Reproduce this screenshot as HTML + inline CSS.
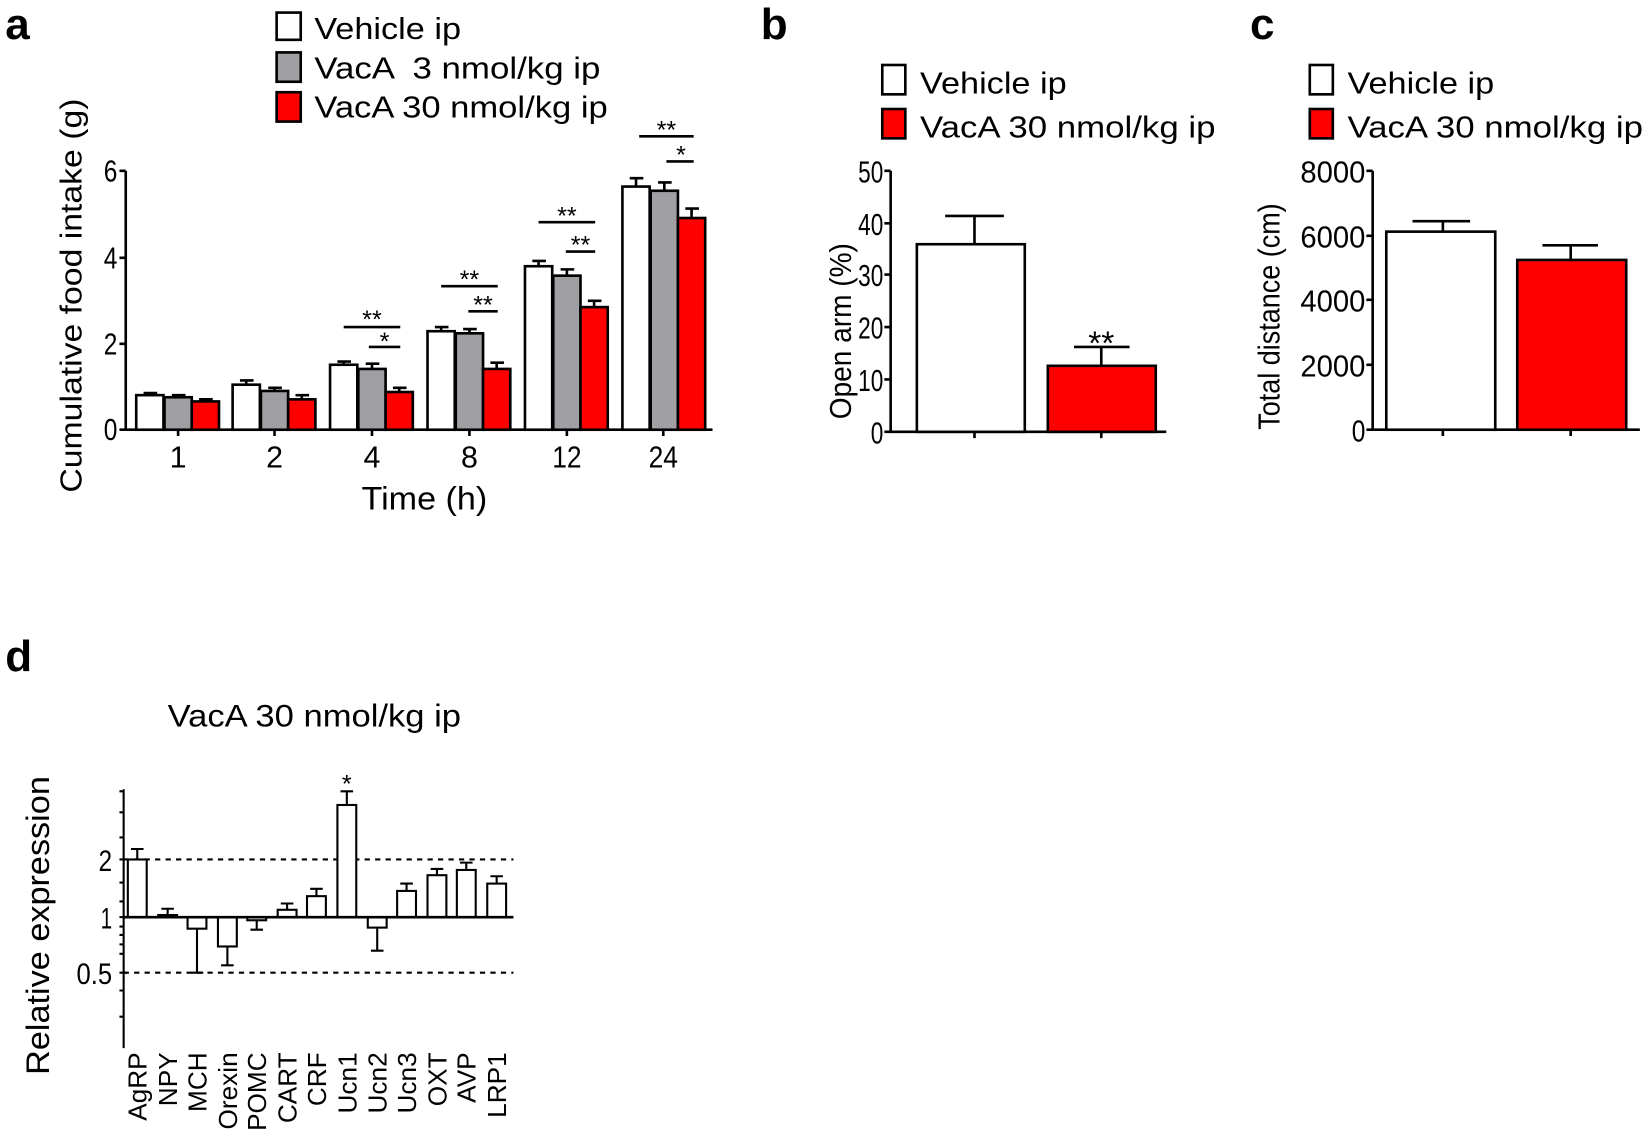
<!DOCTYPE html>
<html><head><meta charset="utf-8"><style>
html,body{margin:0;padding:0;background:#fff;}
svg{display:block;}
text{font-family:"Liberation Sans",sans-serif;fill:#000;}
</style></head><body>
<svg width="1643" height="1132" viewBox="0 0 1568 1080" preserveAspectRatio="none" xmlns="http://www.w3.org/2000/svg">
<g stroke="#000" stroke-width="2.5" fill="none">
<path d="M120 163 V410 H680"/>
<path d="M114 163 H120 M114 246 H120 M114 328 H120 M114 410 H120"/>
<path d="M170 410 V416 M262 410 V416 M355 410 V416 M448 410 V416 M541 410 V416 M633 410 V416"/>
</g>
<g stroke="#000" stroke-width="2.5">
<rect x="130" y="377" width="26" height="33" fill="#fff"/><rect x="157" y="379" width="26" height="31" fill="#a0a0a4"/><rect x="183" y="383" width="26" height="27" fill="#f00"/>
<path d="M143 377V375M137 375H150M170 379V377M164 377H177M196 383V381M190 381H203" fill="none"/>
<rect x="222" y="367" width="26" height="43" fill="#fff"/><rect x="249" y="373" width="26" height="37" fill="#a0a0a4"/><rect x="275" y="381" width="26" height="29" fill="#f00"/>
<path d="M235 367V363M229 363H242M262 373V370M256 370H269M288 381V377M282 377H295" fill="none"/>
<rect x="315" y="348" width="26" height="62" fill="#fff"/><rect x="342" y="352" width="26" height="58" fill="#a0a0a4"/><rect x="368" y="374" width="26" height="36" fill="#f00"/>
<path d="M328 348V345M322 345H335M355 352V347M349 347H362M381 374V370M375 370H388" fill="none"/>
<rect x="408" y="316" width="26" height="94" fill="#fff"/><rect x="435" y="318" width="26" height="92" fill="#a0a0a4"/><rect x="461" y="352" width="26" height="58" fill="#f00"/>
<path d="M421 316V312M415 312H428M448 318V314M442 314H455M474 352V346M468 346H481" fill="none"/>
<rect x="501" y="254" width="26" height="156" fill="#fff"/><rect x="528" y="263" width="26" height="147" fill="#a0a0a4"/><rect x="554" y="293" width="26" height="117" fill="#f00"/>
<path d="M514 254V249M508 249H521M541 263V257M535 257H548M567 293V287M561 287H574" fill="none"/>
<rect x="594" y="178" width="26" height="232" fill="#fff"/><rect x="621" y="182" width="26" height="228" fill="#a0a0a4"/><rect x="647" y="208" width="26" height="202" fill="#f00"/>
<path d="M607 178V170M601 170H614M634 182V174M628 174H641M660 208V199M654 199H667" fill="none"/>
<path d="M328 312H382M352 331H382M421 273H475M447 297H475M514 212H568M540 240H568M610 130H662M636 154H662" fill="none"/>
<rect x="264" y="12" width="23" height="26" fill="#fff"/><rect x="264" y="50" width="23" height="28" fill="#a0a0a4"/><rect x="264" y="88" width="23" height="28" fill="#f00"/>
</g>
<g font-size="24" text-anchor="middle">
<text x="355" y="313">**</text><text x="367" y="334">*</text>
<text x="448" y="275">**</text><text x="461" y="299">**</text>
<text x="541" y="214">**</text><text x="554" y="242">**</text>
<text x="636" y="132">**</text><text x="650" y="156">*</text>
</g>
<text x="5" y="37" font-size="42" font-weight="bold">a</text>
<g font-size="29"><text x="300" y="37" textLength="140" lengthAdjust="spacingAndGlyphs">Vehicle ip</text><text x="300" y="75" textLength="273" lengthAdjust="spacingAndGlyphs">VacA &#160;3 nmol/kg ip</text><text x="300" y="112" textLength="280" lengthAdjust="spacingAndGlyphs">VacA 30 nmol/kg ip</text></g>
<g font-size="29" text-anchor="end"><text x="112" y="173" textLength="13" lengthAdjust="spacingAndGlyphs">6</text><text x="112" y="256" textLength="13" lengthAdjust="spacingAndGlyphs">4</text><text x="112" y="338" textLength="13" lengthAdjust="spacingAndGlyphs">2</text><text x="112" y="420" textLength="13" lengthAdjust="spacingAndGlyphs">0</text></g>
<g font-size="29" text-anchor="middle"><text x="170" y="446">1</text><text x="262" y="446">2</text><text x="355" y="446">4</text><text x="448" y="446">8</text><text x="541" y="446" textLength="28" lengthAdjust="spacingAndGlyphs">12</text><text x="633" y="446" textLength="28" lengthAdjust="spacingAndGlyphs">24</text>
<text x="405" y="486" font-size="31" textLength="120" lengthAdjust="spacingAndGlyphs">Time (h)</text></g>
<text transform="translate(78,282) rotate(-90)" font-size="29" text-anchor="middle" textLength="376" lengthAdjust="spacingAndGlyphs">Cumulative food intake (g)</text>

<text x="726" y="37" font-size="42" font-weight="bold">b</text>
<g stroke="#000" stroke-width="2.5">
<rect x="842" y="62" width="22" height="28" fill="#fff"/><rect x="842" y="104" width="22" height="28" fill="#f00"/>
<path d="M850 163V412H1113M844 163H850M844 213H850M844 262H850M844 312H850M844 362H850M844 412H850M930 412V418M1051 412V418" fill="none"/>
<rect x="875" y="233" width="103" height="179" fill="#fff"/>
<rect x="1000" y="349" width="103" height="63" fill="#f00"/>
<path d="M930 233V206M902 206H958M1051 349V331M1025 331H1078" fill="none"/>
</g>
<text x="1051" y="338" font-size="32" text-anchor="middle">**</text>
<g font-size="29"><text x="878" y="89" textLength="140" lengthAdjust="spacingAndGlyphs">Vehicle ip</text><text x="878" y="131" textLength="282" lengthAdjust="spacingAndGlyphs">VacA 30 nmol/kg ip</text></g>
<g font-size="29" text-anchor="end"><text x="843" y="174" textLength="24" lengthAdjust="spacingAndGlyphs">50</text><text x="843" y="224" textLength="24" lengthAdjust="spacingAndGlyphs">40</text><text x="843" y="273" textLength="24" lengthAdjust="spacingAndGlyphs">30</text><text x="843" y="323" textLength="24" lengthAdjust="spacingAndGlyphs">20</text><text x="843" y="373" textLength="24" lengthAdjust="spacingAndGlyphs">10</text><text x="843" y="423" textLength="12" lengthAdjust="spacingAndGlyphs">0</text></g>
<text transform="translate(812,316) rotate(-90)" font-size="29" text-anchor="middle" textLength="168" lengthAdjust="spacingAndGlyphs">Open arm (%)</text>

<text x="1193" y="37" font-size="42" font-weight="bold">c</text>
<g stroke="#000" stroke-width="2.5">
<rect x="1250" y="62" width="22" height="28" fill="#fff"/><rect x="1250" y="104" width="22" height="28" fill="#f00"/>
<path d="M1310 163V410H1565M1304 163H1310M1304 225H1310M1304 286H1310M1304 348H1310M1304 410H1310M1377 410V416M1499 410V416" fill="none"/>
<rect x="1323" y="221" width="104" height="189" fill="#fff"/>
<rect x="1448" y="248" width="104" height="162" fill="#f00"/>
<path d="M1377 221V211M1348 211H1403M1499 248V234M1472 234H1525" fill="none"/>
</g>
<g font-size="29"><text x="1286" y="89" textLength="140" lengthAdjust="spacingAndGlyphs">Vehicle ip</text><text x="1286" y="131" textLength="282" lengthAdjust="spacingAndGlyphs">VacA 30 nmol/kg ip</text></g>
<g font-size="29" text-anchor="end"><text x="1303" y="174" textLength="62" lengthAdjust="spacingAndGlyphs">8000</text><text x="1303" y="236" textLength="62" lengthAdjust="spacingAndGlyphs">6000</text><text x="1303" y="297" textLength="62" lengthAdjust="spacingAndGlyphs">4000</text><text x="1303" y="359" textLength="62" lengthAdjust="spacingAndGlyphs">2000</text><text x="1303" y="421" textLength="13" lengthAdjust="spacingAndGlyphs">0</text></g>
<text transform="translate(1221,302) rotate(-90)" font-size="29" text-anchor="middle" textLength="216" lengthAdjust="spacingAndGlyphs">Total distance (cm)</text>

<text x="5" y="640" font-size="42" font-weight="bold">d</text>
<text x="300" y="693" font-size="30" text-anchor="middle" textLength="280" lengthAdjust="spacingAndGlyphs">VacA 30 nmol/kg ip</text>
<g stroke="#000" stroke-width="2">
<path d="M118 753V1000" fill="none"/>
<path d="M114 755H118M114 775H118M114 799H118M114 820H121M114 842H118M114 860H118M114 875H121M114 884H118M114 892H118M114 901H118M114 910H118M114 928H121M114 945H118M114 970H118" fill="none"/>
<path d="M118 820H490M118 928H490" stroke-dasharray="5,5" fill="none"/>
<g fill="#fff">
<rect x="122" y="820" width="18" height="55"/>
<rect x="151" y="873" width="18" height="2"/>
<rect x="179" y="875" width="18" height="11"/>
<rect x="208" y="875" width="18" height="28"/>
<rect x="236" y="875" width="18" height="3"/>
<rect x="265" y="868" width="18" height="7"/>
<rect x="293" y="855" width="18" height="20"/>
<rect x="322" y="768" width="18" height="107"/>
<rect x="351" y="875" width="18" height="10"/>
<rect x="379" y="850" width="18" height="25"/>
<rect x="408" y="835" width="18" height="40"/>
<rect x="436" y="830" width="18" height="45"/>
<rect x="465" y="843" width="18" height="32"/>
</g>
<path d="M131 820V810M125 810H137M160 873V867M154 867H166M188 886V928M182 928H194M217 903V921M211 921H223M245 878V887M239 887H251M274 868V862M268 862H280M302 855V848M296 848H308M331 768V755M325 755H337M360 885V907M354 907H366M388 850V843M382 843H394M417 835V829M411 829H423M445 830V823M439 823H451M474 843V836M468 836H480" fill="none"/>
<path d="M118 875H490" stroke-width="2.5" fill="none"/>
</g>
<text x="331" y="756" font-size="24" text-anchor="middle">*</text>
<g font-size="28" text-anchor="end"><text x="107" y="831" textLength="13" lengthAdjust="spacingAndGlyphs">2</text><text x="107" y="886" textLength="11" lengthAdjust="spacingAndGlyphs">1</text><text x="107" y="939" textLength="34" lengthAdjust="spacingAndGlyphs">0.5</text></g>
<text transform="translate(47,883) rotate(-90)" font-size="31" text-anchor="middle" textLength="285" lengthAdjust="spacingAndGlyphs">Relative expression</text>
<g font-size="25" text-anchor="end">
<text transform="translate(140,1004) rotate(-90)">AgRP</text>
<text transform="translate(169,1004) rotate(-90)">NPY</text>
<text transform="translate(197,1004) rotate(-90)">MCH</text>
<text transform="translate(226,1004) rotate(-90)">Orexin</text>
<text transform="translate(254,1004) rotate(-90)">POMC</text>
<text transform="translate(283,1004) rotate(-90)">CART</text>
<text transform="translate(311,1004) rotate(-90)">CRF</text>
<text transform="translate(340,1004) rotate(-90)">Ucn1</text>
<text transform="translate(369,1004) rotate(-90)">Ucn2</text>
<text transform="translate(397,1004) rotate(-90)">Ucn3</text>
<text transform="translate(426,1004) rotate(-90)">OXT</text>
<text transform="translate(454,1004) rotate(-90)">AVP</text>
<text transform="translate(483,1004) rotate(-90)">LRP1</text>
</g>
</svg>
</body></html>
